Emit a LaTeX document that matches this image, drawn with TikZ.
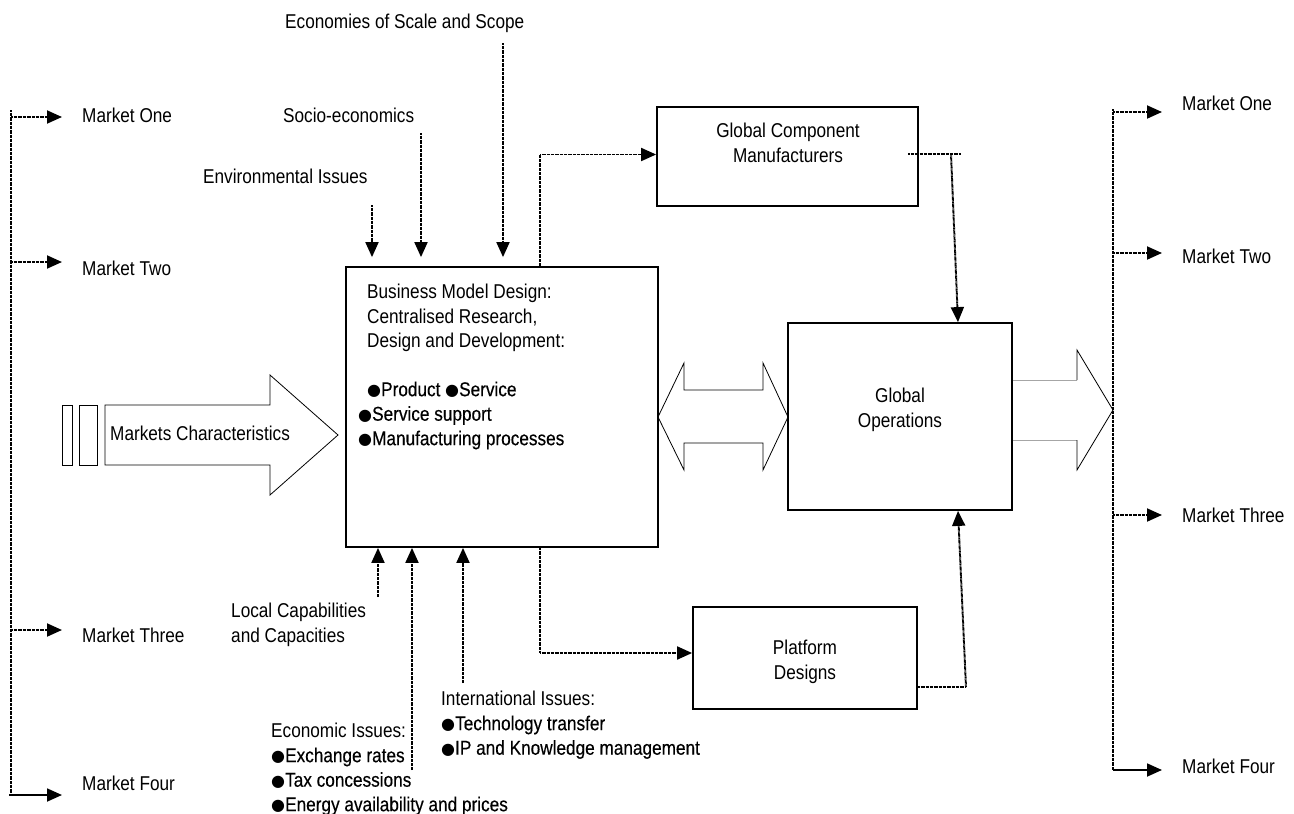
\documentclass[tikz,border=0pt]{standalone}
\usepackage{fontspec}
\setmainfont{Liberation Sans}[FakeStretch=0.86]
\newfontfamily\itemfont{Liberation Sans}[FakeStretch=0.86, FakeBold=0.35]
\newfontfamily\symfont{DejaVu Sans}
\usetikzlibrary{arrows.meta}
\newcommand{\bul}{\raisebox{0.5pt}{\fontsize{16}{16}\symfont ●}}
\newcommand{\itm}[1]{\bul{\itemfont #1}}
\begin{document}
\begin{tikzpicture}[x=1pt,y=-1pt,
  lbl/.style={inner sep=0pt, font=\fontsize{20}{24.5}\selectfont},
  boxnode/.style={draw, line width=1.8pt, inner sep=0pt, rectangle},
  dotline/.style={line width=1.9pt, dash pattern=on 0.9pt off 0.4pt},
  solidline/.style={line width=1.8pt},
  tip/.style={-{Triangle[length=15pt,width=13pt]}},
  outline/.style={line width=0.8pt, line join=miter}]
\useasboundingbox (0,0) rectangle (1294,814);

% ---------- boxes ----------
\node[boxnode, minimum width=312pt, minimum height=280pt] (bmd) at (502,407) {};
\node[boxnode, minimum width=261pt, minimum height=99pt] (gcm) at (787.5,156.5) {};
\node[boxnode, minimum width=224pt, minimum height=187pt] (go) at (900,416.5) {};
\node[boxnode, minimum width=224pt, minimum height=102pt] (pd) at (805,658) {};

% ---------- box texts ----------
\node[lbl, align=left, anchor=north west] (bmdtext) at (358,284)
  {\hspace*{9pt}Business Model Design:\\
   \hspace*{9pt}Centralised Research,\\
   \hspace*{9pt}Design and Development:\\[24pt]
   \hspace*{9pt}\itm{Product} \itm{Service}\\
   \itm{Service support}\\
   \itm{Manufacturing processes}};
\node[lbl, align=center, anchor=north] (gcmtext) at (788,123) {Global Component\\Manufacturers};
\node[lbl, align=center, anchor=north] (gotext) at (900,388) {Global\\Operations};
\node[lbl, align=center, anchor=north] (pdtext) at (805,640) {Platform\\Designs};

% ---------- markets characteristics arrow ----------
\draw[outline] (62,405) rectangle (72,465);
\draw[outline] (79,405) rectangle (97,465);
\draw[outline] (105,405) -- (270,405) -- (270,375) -- (338,435) -- (270,495) -- (270,465) -- (105,465) -- cycle;
\node[lbl, anchor=base west] (mc) at (110,440) {Markets Characteristics};

% ---------- two-way arrow between design and operations ----------
\draw[outline] (658,417) -- (684,363) -- (684,390) -- (763,390) -- (763,363) -- (788,417)
  -- (763,470) -- (763,443) -- (684,443) -- (684,470) -- cycle;

% ---------- output arrow to markets ----------
\draw[outline, gray!70] (go.east |- 0,380) -- (1077,380);
\draw[outline, gray!70] (go.east |- 0,440) -- (1077,440);
\draw[outline] (1077,380) -- (1077,350) -- (1113,410) -- (1077,470) -- (1077,440);

% ---------- influences from above ----------
\node[lbl, anchor=base west] (eco) at (285,28) {Economies of Scale and Scope};
\node[lbl, anchor=base west] (soc) at (283,122) {Socio-economics};
\node[lbl, anchor=base west] (env) at (203,183) {Environmental Issues};
\coordinate (ecotail) at (503,43);
\coordinate (soctail) at (421,133);
\coordinate (envtail) at (372,205);
\draw[dotline, tip, shorten >=9pt] (ecotail) -- (ecotail |- bmd.north);
\draw[dotline, tip, shorten >=9pt] (soctail) -- (soctail |- bmd.north);
\draw[dotline, tip, shorten >=9pt] (envtail) -- (envtail |- bmd.north);

% ---------- influences from below ----------
\node[lbl, align=left, anchor=north west] (loc) at (231,603) {Local Capabilities\\and Capacities};
\node[lbl, align=left, anchor=north west] (ecn) at (271,723)
  {Economic Issues:\\ \itm{Exchange rates}\\ \itm{Tax concessions}\\ \itm{Energy availability and prices}};
\node[lbl, align=left, anchor=north west] (intl) at (441,691)
  {International Issues:\\ \itm{Technology transfer}\\ \itm{IP and Knowledge management}};
\coordinate (loctail) at (378,597);
\coordinate (ecntail) at (412,770);
\coordinate (intltail) at (463,683);
\draw[dotline, tip] (loctail) -- (loctail |- bmd.south);
\draw[dotline, tip] (ecntail) -- (ecntail |- bmd.south);
\draw[dotline, tip] (intltail) -- (intltail |- bmd.south);

% ---------- flows between boxes ----------
\draw[dotline, tip] ([xshift=38pt]bmd.north) |- ([yshift=2pt]gcm.west);
\draw[dotline, tip] ([xshift=38pt]bmd.south) |- ([yshift=5pt]pd.west);
\coordinate (gcmend) at (961,154);
\coordinate (gcmturn) at (951,154);
\draw[dotline] (908,154) -- (gcmend);
\draw[dotline, tip] (gcmturn) -- ([xshift=58pt]go.north);
\coordinate (pdturn) at (966,687);
\draw[dotline] (pd.east |- pdturn) -- (pdturn);
\draw[dotline, tip] (pdturn) -- ([xshift=58pt]go.south);

% ---------- markets, left ----------
\coordinate (lspinetop) at (11,110);
\coordinate (lspinebot) at (11,795);
\draw[dotline] (lspinetop) -- (lspinebot);
\coordinate (la) at (62,117);
\coordinate (lb) at (62,262);
\coordinate (lc) at (62,630);
\coordinate (ld) at (62,795);
\draw[dotline, tip] (la -| lspinetop) -- (la);
\draw[dotline, tip] (lb -| lspinetop) -- (lb);
\draw[dotline, tip] (lc -| lspinetop) -- (lc);
\draw[solidline, tip] ([xshift=-2pt]ld -| lspinetop) -- (ld);
\node[lbl, anchor=base west] (lm1) at (82,122) {Market One};
\node[lbl, anchor=base west] (lm2) at (82,275) {Market Two};
\node[lbl, anchor=base west] (lm3) at (82,642) {Market Three};
\node[lbl, anchor=base west] (lm4) at (82,790) {Market Four};

% ---------- markets, right ----------
\coordinate (rspinetop) at (1113,109);
\coordinate (rspinebot) at (1113,770);
\draw[dotline] (rspinetop) -- (rspinebot);
\coordinate (ra) at (1162,112);
\coordinate (rb) at (1162,253);
\coordinate (rc) at (1162,515);
\coordinate (rd) at (1162,770);
\draw[dotline, tip] (ra -| rspinetop) -- (ra);
\draw[dotline, tip] (rb -| rspinetop) -- (rb);
\draw[dotline, tip] (rc -| rspinetop) -- (rc);
\draw[solidline, tip] (rd -| rspinetop) -- (rd);
\node[lbl, anchor=base west] (rm1) at (1182,110) {Market One};
\node[lbl, anchor=base west] (rm2) at (1182,263) {Market Two};
\node[lbl, anchor=base west] (rm3) at (1182,522) {Market Three};
\node[lbl, anchor=base west] (rm4) at (1182,773) {Market Four};
\end{tikzpicture}
\end{document}
